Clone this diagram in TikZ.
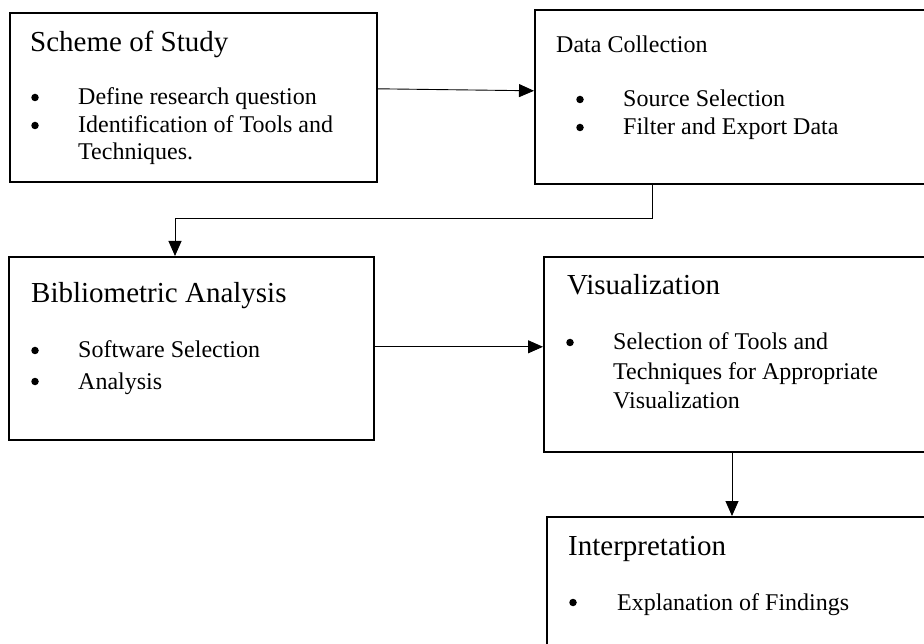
\documentclass[tikz,border=0pt]{standalone}
\usepackage{fontspec}
\setmainfont{Liberation Serif}
\usetikzlibrary{arrows.meta}
\begin{document}
\begin{tikzpicture}[x=1pt,y=-1pt,
  box/.style={draw, line width=1.6pt, rectangle, inner sep=0pt, anchor=north west},
  conn/.style={line width=0.9pt, -{Triangle[length=15pt,width=13pt]}},
  ttl/.style={inner sep=0pt, anchor=base west, font=\fontsize{29}{33}\selectfont},
  bodytext/.style={inner sep=0pt, anchor=base west, font=\fontsize{24}{28}\selectfont},
  bul/.style={circle, fill, inner sep=0pt, minimum size=7.5pt, anchor=center, yshift=7.5pt}]
\useasboundingbox (0,0) rectangle (924,644);
\clip (0,0) rectangle (924,644);

% boxes
\node[box, minimum width=367pt, minimum height=169pt] (scheme) at (9,12) {};
\node[box, minimum width=420pt, minimum height=174pt] (data) at (534,9) {};
\node[box, minimum width=365pt, minimum height=183pt] (biblio) at (8,256) {};
\node[box, minimum width=420pt, minimum height=195pt] (visual) at (543,256) {};
\node[box, minimum width=420pt, minimum height=160pt] (interp) at (546,516) {};

% Scheme of Study
\node[ttl] (t1) at (30,52) {Scheme of Study};
\node[bul] (b11) at (35,105) {};
\node[bul] (b12) at (35,133) {};
\node[bodytext] (l11) at (78,105) {Define research question};
\node[bodytext] (l12) at (78,133) {Identification of Tools and};
\node[bodytext] (l13) at (78,160) {Techniques.};

% Data Collection
\node[bodytext] (t2) at (556,53) {Data Collection};
\node[bul] (b21) at (580,107) {};
\node[bul] (b22) at (580,135) {};
\node[bodytext] (l21) at (623,107) {Source Selection};
\node[bodytext] (l22) at (623,135) {Filter and Export Data};

% Bibliometric Analysis
\node[ttl] (t3) at (31,303) {Bibliometric Analysis};
\node[bul] (b31) at (35,358) {};
\node[bul] (b32) at (35,389) {};
\node[bodytext] (l31) at (78,358) {Software Selection};
\node[bodytext] (l32) at (78,389) {Analysis};

% Visualization
\node[ttl] (t4) at (567,295) {Visualization};
\node[bul] (b41) at (570,350) {};
\node[bodytext] (l41) at (613,350) {Selection of Tools and};
\node[bodytext] (l42) at (613,380) {Techniques for Appropriate};
\node[bodytext] (l43) at (613,408) {Visualization};

% Interpretation
\node[ttl] (t5) at (568,555) {Interpretation};
\node[bul] (b51) at (573,610) {};
\node[bodytext] (l51) at (617,610) {Explanation of Findings};

% connectors
\draw[conn] ([yshift=8.5pt]scheme.east) -- ([yshift=6pt]data.west);

\coordinate (k1) at (652,218);
\coordinate (k2) at (175,218);
\draw[conn] (k1 |- data.south) -- (k1) -- (k2) -- (k2 |- biblio.north);

\coordinate (c3) at ([yshift=1.5pt]biblio.east);
\draw[conn] (c3) -- (c3 -| visual.west);

\coordinate (c4) at (732,0);
\draw[conn] (c4 |- visual.south) -- (c4 |- interp.north);
\end{tikzpicture}
\end{document}
